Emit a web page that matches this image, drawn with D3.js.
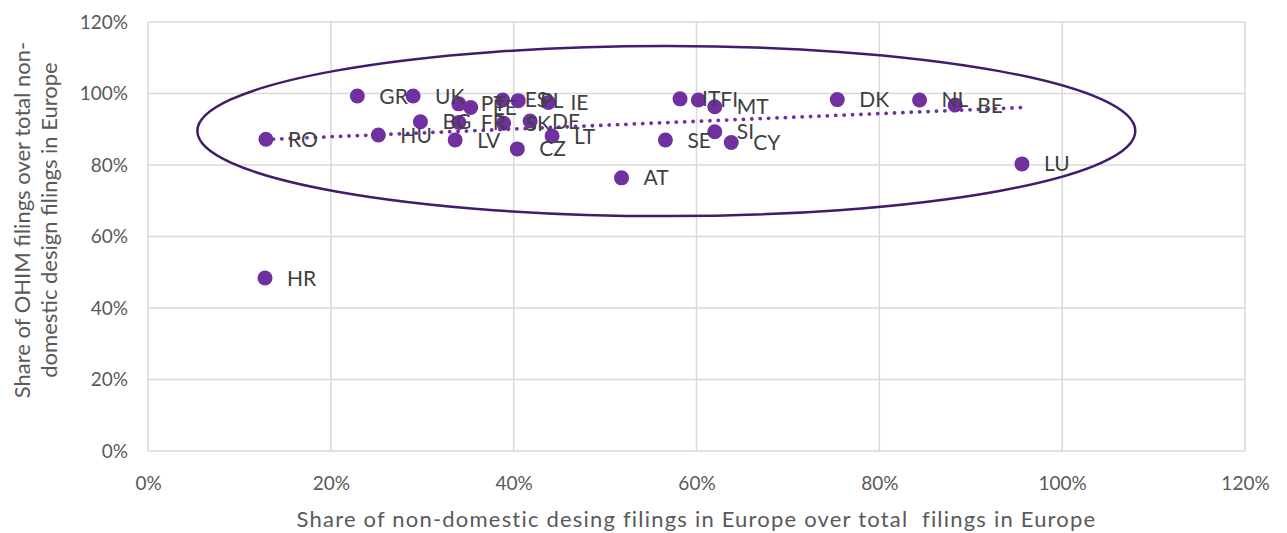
<!DOCTYPE html>
<html>
<head>
<meta charset="utf-8">
<script src="https://cdnjs.cloudflare.com/ajax/libs/d3/7.8.5/d3.min.js"></script>
<style>
  body { margin: 0; background: #fff; }
  svg text { font-family: Lato, "Open Sans", sans-serif; }
</style>
</head>
<body>
<svg id="chart"></svg>
<script>
// country codes and values (shares, %)
var countries = ["GR","UK","PT","EE","ES","PL","IE","BG","FR","SK","DE","HU","LV","LT","CZ","RO","HR","AT","SE","IT","FI","MT","SI","CY","DK","NL","BE","LU"];
var xShare =    [22.9, 29.0, 34.0, 35.3, 38.8, 40.5, 43.8, 29.8, 34.0, 38.9, 41.8, 25.2, 33.6, 44.2, 40.4, 12.9, 12.8, 51.8, 56.6, 58.2, 60.2, 62.0, 62.0, 63.8, 75.4, 84.4, 88.3, 95.6];
var yShare =    [99.3, 99.3, 97.1, 96.1, 98.2, 98.0, 97.5, 92.1, 91.9, 91.7, 92.3, 88.4, 87.0, 88.1, 84.5, 87.2, 48.4, 76.4, 87.0, 98.5, 98.2, 96.3, 89.3, 86.3, 98.3, 98.2, 96.8, 80.3];
var xTicks = [0, 20, 40, 60, 80, 100, 120];
var yTicks = [0, 20, 40, 60, 80, 100, 120];
var xTitle = "Share of non-domestic desing filings in Europe over total  filings in Europe";
var yTitle = ["Share of OHIM filings over total non-", "domestic design filings in Europe"];
// highlight ellipse, in data units: centre x, centre y, radius x, radius y
var ellipseShape = [56.7, 89.5, 51.3, 23.8];

var width = 1287, height = 533;
var margin = {top: 22, right: 42, bottom: 82, left: 148};

var svg = d3.select("#chart").attr("width", width).attr("height", height);

var x = d3.scaleLinear().domain([0, 120]).range([margin.left, width - margin.right]);
var y = d3.scaleLinear().domain([0, 120]).range([height - margin.bottom, margin.top]);

var gridColor = "#d9d9d9";
var purple = "#7030a0";

// grid
svg.append("g").selectAll("line").data(yTicks).enter().append("line")
    .attr("x1", x(0)).attr("x2", x(120))
    .attr("y1", function(d) { return y(d); }).attr("y2", function(d) { return y(d); })
    .attr("stroke", gridColor).attr("stroke-width", 1.5);
svg.append("g").selectAll("line").data(xTicks).enter().append("line")
    .attr("y1", y(0)).attr("y2", y(120))
    .attr("x1", function(d) { return x(d); }).attr("x2", function(d) { return x(d); })
    .attr("stroke", gridColor).attr("stroke-width", 1.5);

// axes (labels only)
var xAxis = svg.append("g").attr("transform", "translate(0," + y(0) + ")")
    .call(d3.axisBottom(x).tickValues(xTicks).tickSize(0).tickPadding(26).tickFormat(function(d) { return d + "%"; }));
var yAxis = svg.append("g").attr("transform", "translate(" + x(0) + ",0)")
    .call(d3.axisLeft(y).tickValues(yTicks).tickSize(0).tickPadding(20).tickFormat(function(d) { return d + "%"; }));
[xAxis, yAxis].forEach(function(a) {
    a.select(".domain").remove();
    a.selectAll("text").attr("font-size", 19).attr("fill", "#595959")
        .attr("font-family", "Lato, 'Open Sans', sans-serif");
});

// axis titles
svg.append("text")
    .attr("x", (x(0) + x(120)) / 2).attr("y", 527)
    .attr("text-anchor", "middle").attr("font-size", 22).attr("fill", "#595959")
    .attr("letter-spacing", 1.2).style("white-space", "pre")
    .text(xTitle);

svg.append("g").attr("transform", "translate(30,220) rotate(-90)")
    .selectAll("text").data(yTitle).enter().append("text")
    .attr("x", 0).attr("y", function(d, i) { return i * 27; })
    .attr("text-anchor", "middle").attr("font-size", 22).attr("fill", "#595959")
    .text(function(d) { return d; });

// linear trendline (least squares over all points)
var n = xShare.length;
var mx = d3.mean(xShare), my = d3.mean(yShare);
var sxy = 0, sxx = 0;
for (var i = 0; i < n; i++) {
    sxy += (xShare[i] - mx) * (yShare[i] - my);
    sxx += (xShare[i] - mx) * (xShare[i] - mx);
}
var slope = sxy / sxx, intercept = my - slope * mx;
var xr = d3.extent(xShare);

// points
var pts = countries.map(function(c, i) { return {name: c, x: xShare[i], y: yShare[i]}; });

svg.append("g").selectAll("circle").data(pts).enter().append("circle")
    .attr("cx", function(d) { return x(d.x); })
    .attr("cy", function(d) { return y(d.y); })
    .attr("r", 7.5)
    .attr("fill", purple);

svg.append("line")
    .attr("x1", x(xr[0])).attr("y1", y(intercept + slope * xr[0]))
    .attr("x2", x(xr[1])).attr("y2", y(intercept + slope * xr[1]))
    .attr("stroke", purple).attr("stroke-width", 3.8)
    .attr("stroke-linecap", "round").attr("stroke-dasharray", "0.1 8.3");

// ellipse
svg.append("ellipse")
    .attr("cx", x(ellipseShape[0])).attr("cy", y(ellipseShape[1]))
    .attr("rx", x(ellipseShape[2]) - x(0)).attr("ry", y(0) - y(ellipseShape[3]))
    .attr("fill", "none").attr("stroke", "#401b6e").attr("stroke-width", 2.5);

// data labels
svg.append("g").selectAll("text").data(pts).enter().append("text")
    .attr("x", function(d) { return x(d.x) + 22; })
    .attr("y", function(d) { return y(d.y); })
    .attr("dy", "0.36em")
    .attr("font-size", 21).attr("fill", "#404040")
    .text(function(d) { return d.name; });
</script>
</body>
</html>
